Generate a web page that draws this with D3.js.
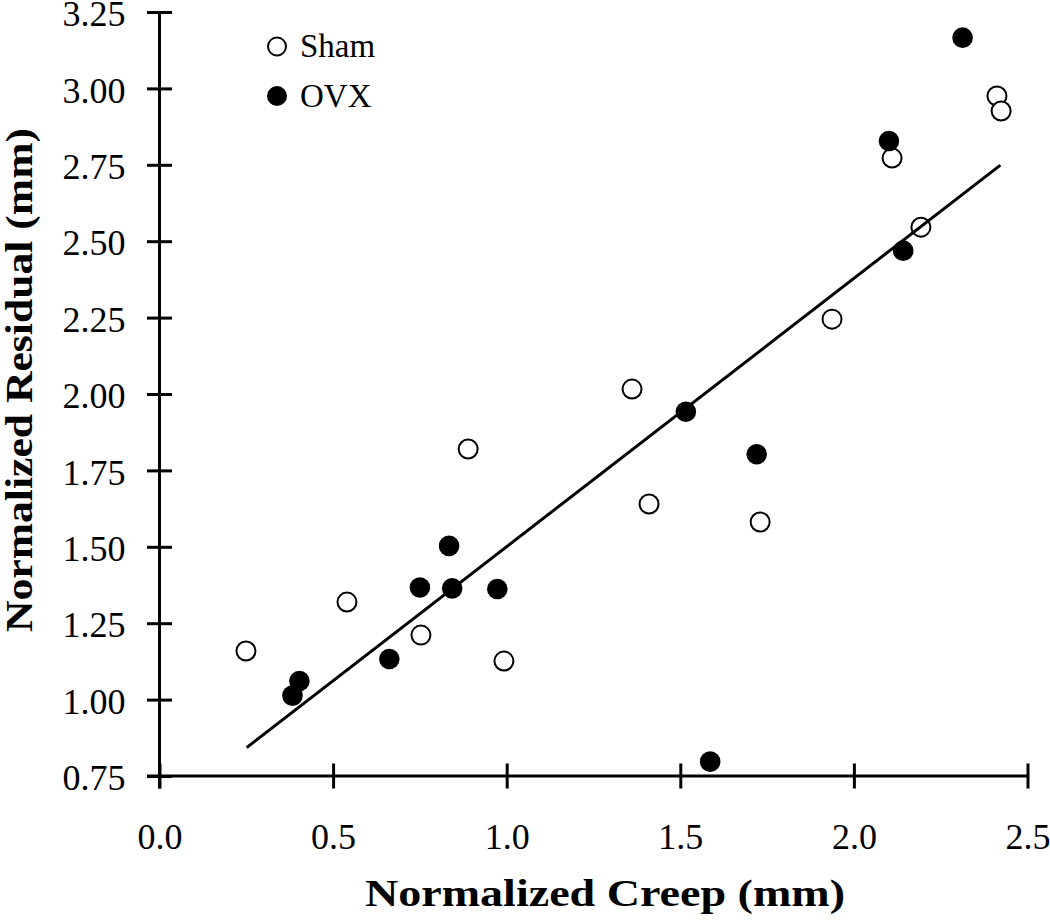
<!DOCTYPE html>
<html>
<head>
<meta charset="utf-8">
<script src="https://cdn.jsdelivr.net/npm/d3@7"></script>
<style>
  html, body { margin: 0; padding: 0; background: #fff; }
  svg { display: block; }
  text { font-family: "Liberation Serif", "Times New Roman", serif; fill: #000; }
</style>
</head>
<body>
<svg id="chart" width="1050" height="924"></svg>
<script>
// ---- data ----
const shamCreep    = [0.249, 0.540, 0.753, 0.889, 0.992, 1.361, 1.410, 1.730, 1.937, 2.110, 2.193, 2.412, 2.424];
const shamResidual = [1.159, 1.319, 1.211, 1.820, 1.126, 2.016, 1.640, 1.581, 2.245, 2.772, 2.546, 2.975, 2.926];
const ovxCreep     = [0.383, 0.403, 0.662, 0.750, 0.834, 0.843, 0.973, 1.516, 1.720, 1.586, 2.101, 2.142, 2.313];
const ovxResidual  = [1.013, 1.061, 1.133, 1.367, 1.503, 1.364, 1.362, 1.942, 1.803, 0.797, 2.828, 2.469, 3.166];
const fitCreep     = [0.251, 2.422];
const fitResidual  = [0.843, 2.749];
const xTicks = [0.0, 0.5, 1.0, 1.5, 2.0, 2.5];
const yTicks = [0.75, 1.00, 1.25, 1.50, 1.75, 2.00, 2.25, 2.50, 2.75, 3.00, 3.25];
const seriesNames = ["Sham", "OVX"];
const xTitle = "Normalized Creep (mm)";
const yTitle = "Normalized Residual (mm)";

// ---- layout ----
const svg = d3.select("#chart");
const x = d3.scaleLinear().domain([0, 2.5]).range([159.5, 1027.5]);
const y = d3.scaleLinear().domain([0.75, 3.25]).range([776, 12]);
const tk = 12.5;
const sw = 3;

// axes
const gx = svg.append("g").attr("transform", `translate(0,${y(0.75)})`)
  .call(d3.axisBottom(x).tickValues(xTicks).tickFormat(d3.format(".1f")).tickSizeOuter(0).tickSize(tk));
gx.select(".domain").remove();
gx.selectAll(".tick line").attr("y1", -tk).attr("y2", tk).attr("stroke", "#000").attr("stroke-width", sw);
gx.selectAll(".tick text").attr("y", 73).attr("dy", 0).attr("font-size", 36)
  .attr("font-family", "Liberation Serif, Times New Roman, serif").attr("fill", "#000");

const gy = svg.append("g").attr("transform", `translate(${x(0)},0)`)
  .call(d3.axisLeft(y).tickValues(yTicks).tickFormat(d3.format(".2f")).tickSizeOuter(0).tickSize(tk));
gy.select(".domain").remove();
gy.selectAll(".tick line").attr("x1", -tk).attr("x2", tk).attr("stroke", "#000").attr("stroke-width", sw);
gy.selectAll(".tick text").attr("x", -34).attr("dy", "0.38em").attr("font-size", 36)
  .attr("font-family", "Liberation Serif, Times New Roman, serif").attr("fill", "#000");

// axis lines
svg.append("line").attr("x1", x(0) - tk).attr("x2", x(2.5) + 1)
  .attr("y1", y(0.75)).attr("y2", y(0.75)).attr("stroke", "#000").attr("stroke-width", sw);
svg.append("line").attr("x1", x(0)).attr("x2", x(0))
  .attr("y1", y(3.25) - 1).attr("y2", y(0.75) + tk).attr("stroke", "#000").attr("stroke-width", sw);

// points
const r = 9.5;
const sham = shamCreep.map((c, i) => ({ c, r: shamResidual[i] }));
const ovx = ovxCreep.map((c, i) => ({ c, r: ovxResidual[i] }));

svg.append("g").selectAll("circle").data(sham).join("circle")
  .attr("cx", d => x(d.c)).attr("cy", d => y(d.r)).attr("r", r)
  .attr("fill", "#fff").attr("stroke", "#000").attr("stroke-width", 2);

svg.append("g").selectAll("circle").data(ovx).join("circle")
  .attr("cx", d => x(d.c)).attr("cy", d => y(d.r)).attr("r", r + 0.8)
  .attr("fill", "#000");

// regression line
svg.append("path")
  .datum(fitCreep.map((c, i) => [c, fitResidual[i]]))
  .attr("d", d3.line().x(d => x(d[0])).y(d => y(d[1])))
  .attr("fill", "none").attr("stroke", "#000").attr("stroke-width", sw);

// legend
const leg = svg.append("g");
leg.append("circle").attr("cx", 277).attr("cy", 46.5).attr("r", 9)
  .attr("fill", "#fff").attr("stroke", "#000").attr("stroke-width", 2);
leg.append("text").attr("x", 300).attr("y", 56.5).attr("font-size", 33).text(seriesNames[0]);
leg.append("circle").attr("cx", 277).attr("cy", 96).attr("r", 10).attr("fill", "#000");
leg.append("text").attr("x", 300).attr("y", 107).attr("font-size", 33).text(seriesNames[1]);

// titles
svg.append("text").attr("x", 605).attr("y", 906).attr("text-anchor", "middle")
  .attr("font-size", 37).attr("font-weight", "bold")
  .attr("textLength", 480).attr("lengthAdjust", "spacingAndGlyphs").text(xTitle);
svg.append("text").attr("transform", "translate(32,380) rotate(-90)").attr("text-anchor", "middle")
  .attr("font-size", 37).attr("font-weight", "bold")
  .attr("textLength", 504).attr("lengthAdjust", "spacingAndGlyphs").text(yTitle);
</script>
</body>
</html>
